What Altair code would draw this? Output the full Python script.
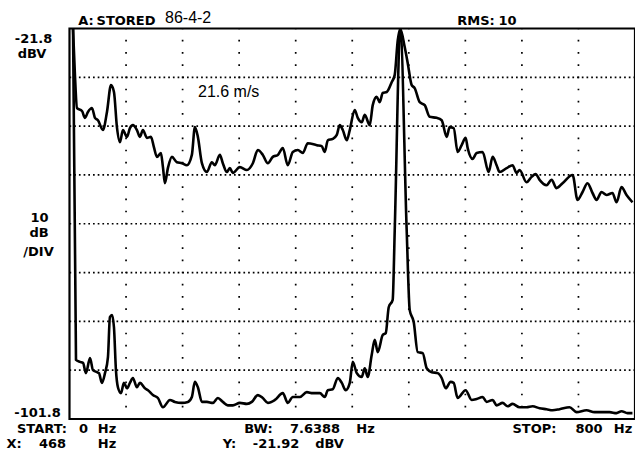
import altair as alt
import pandas as pd

# ---------------- data ----------------
REF_LEVEL = -21.8      # dBV, top of screen
BOTTOM_LEVEL = -101.8  # dBV, bottom of screen
START_HZ = 0
STOP_HZ = 800

upper_freq = [5, 7.8, 10.6, 17.7, 21.9, 26.1, 31.8, 36.0, 40.3, 47.3,
              53.0, 58.7, 62.9, 67.1, 71.4, 75.6, 81.3, 85.5, 89.7, 95.4,
              99.6, 103.9, 109.5, 115.2, 119.4, 123.7, 129.3, 132.2, 135.0, 139.2,
              144.9, 151.9, 159.0, 166.1, 173.1, 177.4, 181.6, 187.3, 194.3, 201.4,
              205.6, 212.7, 216.9, 222.6, 226.8, 231.1, 241.0, 250.9, 259.4, 266.4,
              273.5, 280.6, 287.6, 294.7, 301.8, 308.8, 315.9, 323.0, 330.0, 337.1,
              349.8, 356.9, 361.1, 365.4, 372.4, 378.1, 382.3, 386.6, 392.2, 396.5,
              403.5, 407.8, 413.4, 417.7, 424.7, 429.0, 434.6, 438.9, 443.1, 448.8,
              455.8, 460.1, 464.4, 468.0, 474.2, 478.5, 484.1, 488.3, 495.4, 502.5,
              509.6, 519.4, 526.5, 533.6, 537.8, 543.5, 549.1, 554.8, 560.4, 563.3,
              570.3, 576.0, 584.4, 592.9, 598.6, 604.2, 608.5, 618.4, 626.8, 632.5,
              636.7, 646.6, 653.7, 659.4, 665.0, 674.9, 682.0, 689.0, 697.5, 711.7,
              718.7, 725.8, 732.8, 739.9, 745.6, 752.6, 759.7, 768.2, 773.9, 780.9,
              788.0, 796.4]
upper_db = [-21.9, -31.7, -38.1, -38.7, -40.1, -38.9, -38.1, -40.1, -40.6, -42.6,
            -38.9, -33.4, -34.8, -42.0, -45.1, -42.6, -44.0, -42.2, -41.6, -42.6,
            -44.0, -42.6, -44.2, -44.0, -46.1, -48.1, -47.3, -50.2, -53.5, -50.4,
            -48.1, -49.2, -49.4, -49.8, -47.7, -42.0, -44.0, -49.4, -51.2, -49.2,
            -49.8, -47.7, -49.4, -51.2, -50.4, -51.4, -50.2, -50.8, -49.4, -46.7,
            -47.7, -49.4, -48.1, -47.7, -46.3, -49.8, -47.1, -46.7, -47.3, -45.3,
            -45.7, -45.9, -47.1, -44.7, -44.4, -43.6, -41.6, -42.6, -44.7, -42.6,
            -38.5, -40.1, -41.0, -39.5, -41.6, -37.5, -35.8, -36.9, -35.0, -34.8,
            -32.8, -31.3, -24.2, -21.9, -25.6, -28.9, -33.4, -34.0, -36.9, -37.5,
            -39.9, -40.1, -40.6, -44.0, -42.0, -42.2, -47.1, -45.7, -44.2, -46.3,
            -48.5, -47.3, -47.1, -51.2, -48.1, -49.8, -51.2, -50.4, -49.8, -51.4,
            -50.8, -53.3, -52.2, -51.6, -52.8, -53.9, -52.8, -54.5, -53.5, -51.8,
            -56.9, -55.3, -53.5, -55.5, -56.9, -55.3, -55.9, -55.5, -57.4, -54.3,
            -55.9, -57.4]

lower_freq = [5, 9.2, 14.8, 19.1, 23.3, 29.0, 33.2, 38.9, 41.7, 45.9,
              50.2, 54.4, 57.2, 60.1, 62.9, 65.7, 68.5, 72.8, 77.0, 81.3,
              85.5, 89.7, 95.4, 99.6, 106.7, 111.0, 118.0, 125.1, 132.2, 142.1,
              149.1, 159.0, 167.5, 173.1, 177.4, 181.6, 187.3, 194.3, 202.8, 209.9,
              216.9, 224.0, 231.1, 241.0, 250.9, 257.9, 266.4, 273.5, 280.6, 290.5,
              301.8, 308.8, 315.9, 325.8, 335.7, 344.2, 354.1, 361.1, 365.4, 372.4,
              379.5, 385.2, 390.8, 396.5, 400.7, 406.4, 413.4, 417.7, 421.9, 427.5,
              431.8, 436.1, 443.1, 447.4, 451.6, 457.2, 460.1, 468.0, 477.0, 481.3,
              486.9, 492.6, 499.7, 505.3, 512.4, 520.8, 526.5, 532.2, 539.2, 543.5,
              549.1, 560.4, 568.9, 576.0, 584.4, 590.1, 598.6, 604.2, 612.7, 619.8,
              626.8, 636.7, 646.6, 655.1, 665.0, 674.9, 683.4, 693.3, 707.4, 717.3,
              731.4, 742.7, 754.1, 764.0, 773.9, 780.9, 789.4, 796.4]
lower_db = [-21.9, -89.7, -90.1, -90.3, -92.4, -89.3, -91.8, -92.2, -92.4, -94.4,
            -92.4, -89.1, -80.9, -80.5, -83.0, -91.8, -95.3, -96.5, -94.4, -95.5,
            -94.4, -93.4, -95.3, -94.4, -95.5, -95.9, -96.9, -97.5, -99.4, -97.9,
            -98.3, -98.5, -98.3, -97.3, -94.2, -95.3, -98.3, -98.3, -98.5, -97.5,
            -98.3, -99.0, -99.0, -98.5, -98.7, -98.3, -96.9, -97.5, -98.5, -97.9,
            -96.5, -98.5, -97.3, -97.3, -96.3, -96.5, -96.5, -97.3, -95.9, -95.7,
            -93.4, -94.4, -95.9, -94.4, -90.1, -92.4, -93.2, -91.4, -93.2, -88.7,
            -85.6, -88.1, -84.6, -84.2, -78.9, -77.4, -63.1, -21.9, -63.1, -79.5,
            -81.9, -88.1, -88.3, -91.4, -92.2, -92.4, -93.4, -95.5, -94.2, -94.4,
            -97.5, -95.9, -97.9, -97.7, -97.3, -98.3, -97.9, -99.0, -98.5, -99.2,
            -98.7, -99.4, -99.4, -99.2, -99.6, -99.8, -100.0, -99.8, -99.4, -100.4,
            -100.0, -100.4, -100.4, -100.4, -100.6, -100.2, -100.6, -100.6]

grid_freq = [80, 160, 240, 320, 400, 480, 560, 640, 720]
grid_db = [-31.8, -41.8, -51.8, -61.8, -71.8, -81.8, -91.8]

# instrument annotations
bold_labels = ["A:", "STORED", "RMS:", "10",
               "START:", "0", "Hz", "BW:", "7.6388", "Hz", "STOP:", "800", "Hz",
               "X:", "468", "Hz", "Y:", "-21.92", "dBV",
               "-21.8", "dBV", "10", "dB", "/DIV", "-101.8"]
note_labels = ["86-4-2", "21.6 m/s"]

# ---------------- layout ----------------
PAD_L, PAD_T, PAD_B = 69.5, 28.5, 36
W, H = 565.5, 390.5

# centre x, baseline y of each instrument field (window pixels)
bold_pos = [(86, 25), (126, 25), (476, 25), (507.5, 25),
            (42, 433), (83.5, 433), (107, 433), (258.5, 433), (315, 433), (365.5, 433),
            (534.5, 433), (589, 433), (623, 433),
            (14, 448), (52.5, 448), (107, 448), (229.5, 448), (276, 448), (329.5, 448),
            (33.5, 43), (32, 58), (39.5, 222), (39, 237), (38.5, 256), (37.5, 417)]
note_pos = [(165, 23), (198, 97)]

xscale = alt.Scale(domain=[START_HZ, STOP_HZ], nice=False, zero=False)
yscale = alt.Scale(domain=[BOTTOM_LEVEL, REF_LEVEL], nice=False, zero=False)

traces = pd.concat([
    pd.DataFrame({"freq": upper_freq, "db": upper_db, "trace": "upper",
                  "i": list(range(len(upper_freq)))}),
    pd.DataFrame({"freq": lower_freq, "db": lower_db, "trace": "lower",
                  "i": list(range(len(lower_freq)))}),
], ignore_index=True)

lines = alt.Chart(traces).mark_line(
    color="black", strokeWidth=2.6, strokeJoin="round", clip=True,
    interpolate="monotone"
).encode(
    x=alt.X("freq:Q", scale=xscale, axis=None),
    y=alt.Y("db:Q", scale=yscale, axis=None),
    detail="trace:N",
    order="i:Q",
)

hgrid_df = pd.DataFrame({"db": grid_db, "freq": START_HZ, "freq2": STOP_HZ})
hgrid = alt.Chart(hgrid_df).mark_rule(
    color="black", strokeWidth=1.7, strokeDash=[1.7, 3.0], strokeCap="butt"
).encode(
    y=alt.Y("db:Q", scale=yscale, axis=None),
    x=alt.X("freq:Q", scale=xscale, axis=None),
    x2="freq2:Q",
)

vgrid_df = pd.DataFrame({"freq": grid_freq, "db": REF_LEVEL, "db2": BOTTOM_LEVEL})
vgrid = alt.Chart(vgrid_df).mark_rule(
    color="black", strokeWidth=1.7, strokeDash=[1.7, 10.5], strokeDashOffset=0.85,
    strokeCap="butt"
).encode(
    x=alt.X("freq:Q", scale=xscale, axis=None),
    y=alt.Y("db:Q", scale=yscale, axis=None),
    y2="db2:Q",
)


def text_layer(labels, positions, align, font, weight, size):
    df = pd.DataFrame({
        "t": labels,
        "px": [p[0] - PAD_L for p in positions],
        "py": [p[1] - PAD_T for p in positions],
    })
    return alt.Chart(df).mark_text(
        align=align, baseline="alphabetic", font=font, fontWeight=weight,
        fontSize=size, color="black"
    ).encode(
        x=alt.X("px:Q", scale=None, axis=None),
        y=alt.Y("py:Q", scale=None, axis=None),
        text="t:N",
    )


t1 = text_layer(bold_labels, bold_pos, "center", "DejaVu Sans", "bold", 13)
t3 = text_layer(note_labels, note_pos, "left", "Liberation Sans", "normal", 16)

chart = alt.layer(hgrid, vgrid, lines, t1, t3).properties(
    width=W, height=H,
    autosize=alt.AutoSizeParams(type="none"),
    padding={"left": PAD_L, "top": PAD_T, "right": 0, "bottom": PAD_B},
    background="white",
).configure_view(stroke="black", strokeWidth=2.2)

chart.save("out.html", embed_options={"renderer": "svg", "actions": False})
